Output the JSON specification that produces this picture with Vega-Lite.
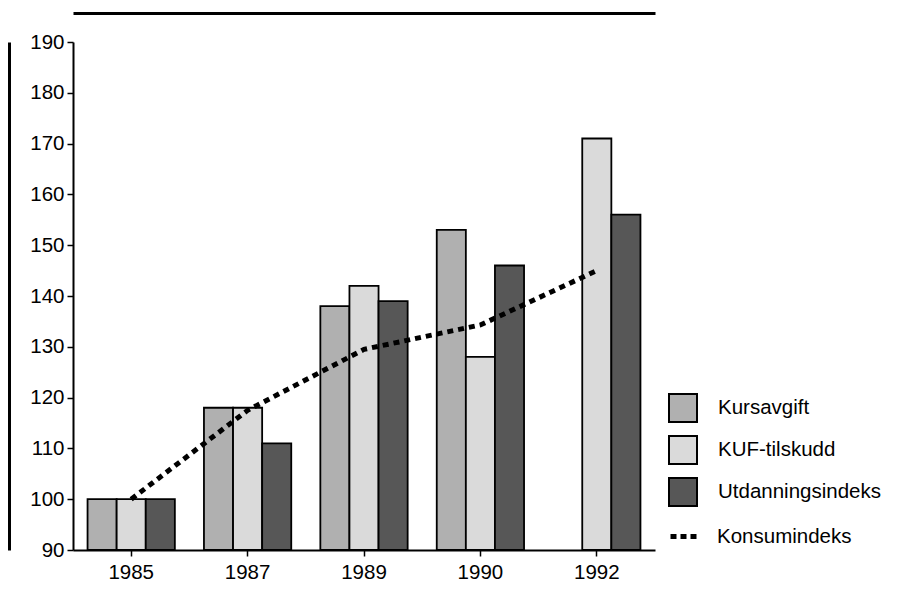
{
  "$schema": "https://vega.github.io/schema/vega-lite/v6.json",
  "width": 582,
  "height": 508,
  "autosize": "none",
  "padding": {"left": 73, "top": 42, "right": 257, "bottom": 45},
  "background": "white",
  "config": {
    "view": {"stroke": null},
    "font": "Liberation Sans",
    "axis": {"labelFont": "Liberation Sans", "labelFontSize": 20.5, "labelColor": "black", "domainColor": "black", "tickColor": "black", "domainWidth": 2, "tickWidth": 1.5, "grid": false, "title": null}
  },
  "datasets": {
    "bars": [
      {"year": "1985", "series": "Kursavgift", "value": 100},
      {"year": "1985", "series": "KUF-tilskudd", "value": 100},
      {"year": "1985", "series": "Utdanningsindeks", "value": 100},
      {"year": "1987", "series": "Kursavgift", "value": 118},
      {"year": "1987", "series": "KUF-tilskudd", "value": 118},
      {"year": "1987", "series": "Utdanningsindeks", "value": 111},
      {"year": "1989", "series": "Kursavgift", "value": 138},
      {"year": "1989", "series": "KUF-tilskudd", "value": 142},
      {"year": "1989", "series": "Utdanningsindeks", "value": 139},
      {"year": "1990", "series": "Kursavgift", "value": 153},
      {"year": "1990", "series": "KUF-tilskudd", "value": 128},
      {"year": "1990", "series": "Utdanningsindeks", "value": 146},
      {"year": "1992", "series": "KUF-tilskudd", "value": 171},
      {"year": "1992", "series": "Utdanningsindeks", "value": 156}
    ],
    "line": [
      {"year": "1985", "value": 100},
      {"year": "1987", "value": 117.5},
      {"year": "1989", "value": 129.5},
      {"year": "1990", "value": 134.3},
      {"year": "1992", "value": 145}
    ]
  },
  "layer": [
    {
      "data": {"name": "bars"},
      "mark": {"type": "bar", "stroke": "black", "strokeWidth": 1.8},
      "encoding": {
        "x": {
          "field": "year", "type": "nominal",
          "scale": {"domain": ["1985", "1987", "1989", "1990", "1992"], "paddingInner": 0.25, "paddingOuter": 0.125},
          "axis": {"labelAngle": 0, "tickSize": 6, "labelPadding": 6, "domainWidth": 2}
        },
        "xOffset": {"field": "series", "type": "nominal", "scale": {"domain": ["Kursavgift", "KUF-tilskudd", "Utdanningsindeks"], "paddingInner": 0, "paddingOuter": 0}},
        "y": {
          "field": "value", "type": "quantitative",
          "scale": {"domain": [90, 190], "zero": false, "nice": false},
          "axis": {"values": [90, 100, 110, 120, 130, 140, 150, 160, 170, 180, 190], "tickSize": 6, "labelPadding": 3}
        },
        "y2": {"datum": 90},
        "fill": {
          "field": "series", "type": "nominal",
          "scale": {"domain": ["Kursavgift", "KUF-tilskudd", "Utdanningsindeks"], "range": ["#b0b0b0", "#dadada", "#575757"]},
          "legend": {"title": null, "orient": "none", "legendX": 595, "legendY": 351, "symbolType": "square", "symbolSize": 784, "symbolStrokeColor": "black", "symbolStrokeWidth": 2, "symbolOpacity": 1, "labelFontSize": 20.5, "labelColor": "black", "labelFont": "Liberation Sans", "labelOffset": 20, "labelLimit": 400, "rowPadding": 6}
        }
      }
    },
    {
      "data": {"name": "line"},
      "mark": {"type": "line", "strokeWidth": 5, "strokeDash": [6, 5], "strokeCap": "butt"},
      "encoding": {
        "x": {
          "field": "year", "type": "nominal",
          "axis": {"orient": "top", "offset": 29, "labels": false, "ticks": false, "domainWidth": 3}
        },
        "y": {
          "field": "value", "type": "quantitative",
          "axis": {"orient": "left", "offset": 64, "labels": false, "ticks": false, "domainWidth": 3}
        },
        "stroke": {
          "datum": "Konsumindeks",
          "scale": {"range": ["black"]},
          "legend": {"title": null, "orient": "none", "legendX": 595, "legendY": 477, "symbolType": "stroke", "symbolSize": 900, "symbolStrokeWidth": 5, "symbolDash": [6, 4], "labelFontSize": 20.5, "labelColor": "black", "labelFont": "Liberation Sans", "labelOffset": 14, "labelLimit": 400}
        }
      }
    }
  ],
  "resolve": {"scale": {"stroke": "independent", "fill": "independent"}, "axis": {"x": "independent", "y": "independent"}}
}
